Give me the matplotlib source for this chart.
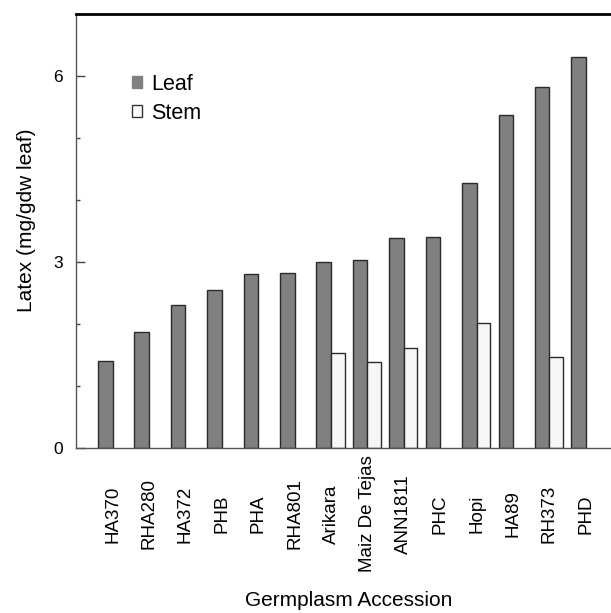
import matplotlib
matplotlib.use("Agg")
import matplotlib.pyplot as plt
from matplotlib.patches import Patch
from matplotlib.ticker import FixedLocator
import numpy as np

plt.rcParams['font.family'] = ['Liberation Sans', 'DejaVu Sans']

categories = ["HA370", "RHA280", "HA372", "PHB", "PHA", "RHA801", "Arikara",
              "Maiz De Tejas", "ANN1811", "PHC", "Hopi", "HA89", "RH373", "PHD"]
leaf = [1.41, 1.87, 2.31, 2.55, 2.81, 2.82, 3.00, 3.04, 3.38, 3.41, 4.28, 5.37, 5.83, 6.31]
stem = [None, None, None, None, None, None, 1.54, 1.39, 1.62, None, 2.02, None, 1.46, None]
yticks = [0, 3, 6]

W, H = 611, 613
fig = plt.figure(figsize=(W / 100, H / 100), dpi=100)
ax = fig.add_axes([75.5 / W, 1 - 448 / H, (611 - 75.5) / W, (448 - 14) / H])

x = np.arange(len(categories))
ax.bar(x - 0.2, leaf, width=0.4, color="#808080", edgecolor="#2a2a2a", linewidth=1.0)
sx = [xi for xi, s in zip(x, stem) if s is not None]
sv = [s for s in stem if s is not None]
ax.bar(np.array(sx) + 0.185, sv, width=0.37, color="#f6f6f6", edgecolor="#2a2a2a", linewidth=1.0)

ax.set_xlim(-1.02, 13.69)
ax.set_ylim(0, 7)
ax.set_xticks(x)
ax.set_xticklabels(categories, rotation=90, va="center", fontsize=13.5)
ax.tick_params(axis="x", length=0, pad=47.5)
ax.yaxis.set_major_locator(FixedLocator(yticks))
ax.yaxis.set_minor_locator(FixedLocator([1, 2, 4, 5]))
ax.set_yticklabels([str(t) for t in yticks], fontsize=12.5)
ax.tick_params(axis="y", which="major", direction="in", length=6.5, width=1, color="#444444", pad=9)
ax.tick_params(axis="y", which="minor", direction="in", length=3, width=1, color="#444444")

ax.spines["right"].set_visible(False)
ax.spines["top"].set_linewidth(2.0)
ax.spines["top"].set_color("black")
ax.spines["left"].set_color("#555555")
ax.spines["left"].set_linewidth(1.0)
ax.spines["bottom"].set_color("#555555")
ax.spines["bottom"].set_linewidth(1.0)

fig.text(27 / W, 1 - 220 / H, "Latex (mg/gdw leaf)", rotation=90, ha="center", va="center", fontsize=15)
fig.text(349 / W, 1 - 601 / H, "Germplasm Accession", ha="center", va="center", fontsize=15)

handles = [Patch(facecolor="#808080", edgecolor="#808080", label="Leaf"),
           Patch(facecolor="white", edgecolor="#333333", label="Stem")]
ax.legend(handles=handles, loc="upper left", bbox_to_anchor=(131.5 / W, 1 - 73.5 / H),
          bbox_transform=fig.transFigure, frameon=False, fontsize=15.5,
          handlelength=0.48, handleheight=0.48, handletextpad=0.42, labelspacing=0.38,
          borderaxespad=0, borderpad=0)

fig.savefig("out.png", dpi=100)
